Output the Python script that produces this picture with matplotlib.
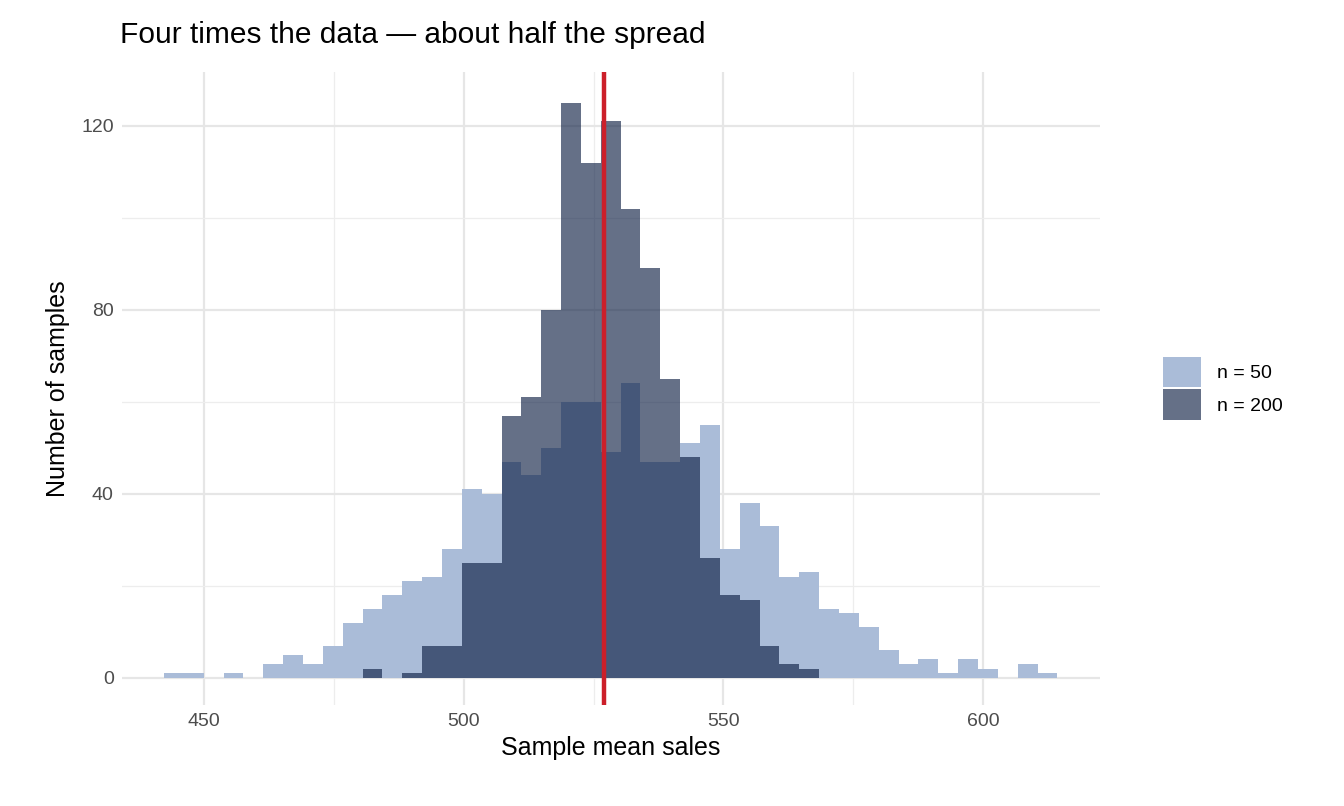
import numpy as np
import matplotlib.pyplot as plt
from matplotlib.patches import Patch

plt.rcParams['font.family'] = ['Liberation Sans', 'DejaVu Sans']

# shared bin edges (45 bins)
bin_start = 442.3
bin_width = 3.822
n_bins = 45
edges = bin_start + bin_width * np.arange(n_bins + 1)

counts_n50 = [1, 1, 0, 1, 0, 3, 5, 3, 7, 12, 15, 18, 21, 22, 28, 41, 40,
              47, 44, 50, 60, 60, 49, 64, 47, 47, 51, 55, 28, 38, 33, 22, 23,
              15, 14, 11, 6, 3, 4, 1, 4, 2, 0, 3, 1]
counts_n200 = [0, 0, 0, 0, 0, 0, 0, 0, 0, 0, 2, 0, 1, 7, 7, 25, 25,
               57, 61, 80, 125, 112, 121, 102, 89, 65, 48, 26, 18, 17, 7, 3, 2,
               0, 0, 0, 0, 0, 0, 0, 0, 0, 0, 0, 0]
true_mean = 527.0

fig = plt.figure(figsize=(13.44, 8.06), dpi=100)
ax = fig.add_axes([122 / 1344, 1 - 705 / 806, 978 / 1344, 633 / 806])

ax.set_xticks([475, 525, 575], minor=True)
ax.set_yticks([20, 60, 100], minor=True)
ax.grid(which='major', color='#e6e6e6', linewidth=1.6)
ax.grid(which='minor', color='#ededed', linewidth=0.9)
ax.set_axisbelow(True)

ax.stairs(counts_n50, edges, fill=True, color='#aabcd8', label='n = 50')
ax.stairs(counts_n200, edges, fill=True, color='#0b1d42', alpha=0.63, label='n = 200')
ax.axvline(true_mean, color='#cc1f2a', linewidth=3.2)

ax.set_xlim(434.2, 622.5)
ax.set_ylim(-5.9, 131.7)
ax.set_xticks([450, 500, 550, 600])
ax.set_yticks([0, 40, 80, 120])
ax.tick_params(which='both', length=0, labelsize=14, colors='#4d4d4d', pad=6)
for s in ax.spines.values():
    s.set_visible(False)

ax.set_xlabel('Sample mean sales', fontsize=18, labelpad=4)
ax.set_ylabel('Number of samples', fontsize=18, labelpad=8)
fig.text(120 / 1344, 1 - 35 / 806, 'Four times the data \u2014 about half the spread',
         fontsize=21.5, va='center', ha='left')

handles = [Patch(facecolor='#aabcd8', linewidth=0, label='n = 50'),
           Patch(facecolor='#0b1d42', alpha=0.63, linewidth=0, label='n = 200')]
fig.legend(handles=handles, loc='center left', bbox_to_anchor=(1145 / 1344, 1 - 388 / 806),
           frameon=False, fontsize=14, handlelength=2.0, handleheight=2.0,
           labelspacing=0.15, handletextpad=0.8)

fig.savefig('out.png', dpi=100)
